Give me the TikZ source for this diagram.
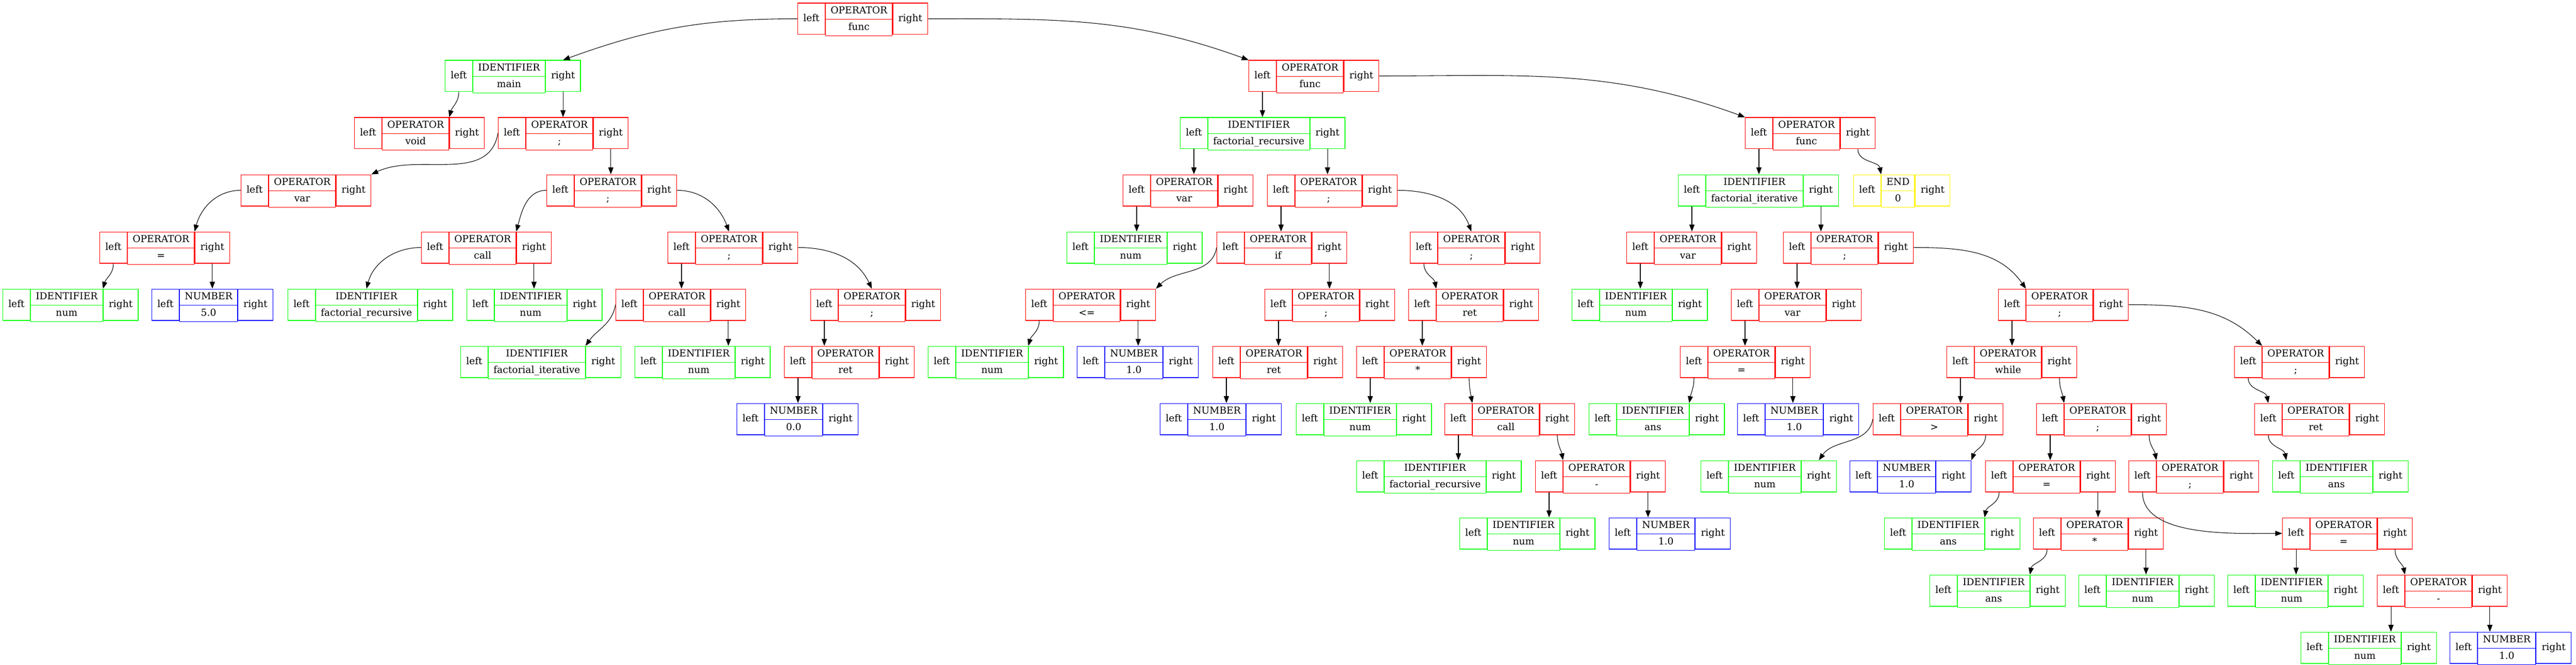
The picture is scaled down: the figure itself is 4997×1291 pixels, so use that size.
\documentclass[tikz,border=0pt]{standalone}
\usepackage{fontspec}
\setmainfont{DejaVu Serif}
\usepackage{tikz}
\usetikzlibrary{arrows.meta,shapes.multipart}
\tikzset{%
  tipG/.tip={Triangle[length=10pt,width=7.5pt]},
  cellbox/.style={draw=#1, line width=0.9pt, minimum height=45.6pt,
    inner xsep=8pt, inner ysep=0pt, text height=10.5pt, text depth=3.5pt},
  midbox/.style={draw=#1, line width=0.9pt, rectangle split, rectangle split parts=2,
    inner xsep=7.3pt, inner ysep=4.4pt},
  edge/.style={-tipG, line width=0.8pt}
}
\def\strutG{\rule[-3.5pt]{0pt}{14pt}}
% name, left edge (px), level, colour, kind, value
\def\astnode#1#2#3#4#5#6{%
  \node[cellbox=#4, anchor=west] (#1-l) at (#2,36.5+111*#3) {left};
  \node[midbox=#4, anchor=north west] (#1) at (#1-l.north east) {\strutG#5\nodepart{two}\strutG#6};
  \node[cellbox=#4, anchor=north west] (#1-r) at (#1.north east) {right};
}
\begin{document}
\begin{tikzpicture}[x=0.75pt,y=-0.75pt,font=\fontsize{14}{17}\selectfont]
\useasboundingbox (0,0) rectangle (4997,1291);
% level 0 - 2
\astnode{root}{1547}{0}{red}{OPERATOR}{func}
\astnode{main}{863}{1}{green}{IDENTIFIER}{main}
\astnode{funcA}{2422}{1}{red}{OPERATOR}{func}
\astnode{void}{687}{2}{red}{OPERATOR}{void}
\astnode{seqA}{966}{2}{red}{OPERATOR}{;}
\astnode{frec}{2289}{2}{green}{IDENTIFIER}{factorial\_recursive}
\astnode{funcB}{3385}{2}{red}{OPERATOR}{func}
% level 3
\astnode{varA}{467}{3}{red}{OPERATOR}{var}
\astnode{seqB}{1060}{3}{red}{OPERATOR}{;}
\astnode{varB}{2178}{3}{red}{OPERATOR}{var}
\astnode{seqC}{2458}{3}{red}{OPERATOR}{;}
\astnode{fit}{3255}{3}{green}{IDENTIFIER}{factorial\_iterative}
\astnode{fin}{3595}{3}{yellow}{END}{0}
% level 4
\astnode{asgA}{193}{4}{red}{OPERATOR}{=}
\astnode{callA}{817}{4}{red}{OPERATOR}{call}
\astnode{seqD}{1295}{4}{red}{OPERATOR}{;}
\astnode{numA}{2069}{4}{green}{IDENTIFIER}{num}
\astnode{ifA}{2360}{4}{red}{OPERATOR}{if}
\astnode{seqE}{2735}{4}{red}{OPERATOR}{;}
\astnode{varC}{3155}{4}{red}{OPERATOR}{var}
\astnode{seqF}{3459}{4}{red}{OPERATOR}{;}
% level 5
\astnode{numB}{5}{5}{green}{IDENTIFIER}{num}
\astnode{numC}{294}{5}{blue}{NUMBER}{5.0}
\astnode{frecA}{558}{5}{green}{IDENTIFIER}{factorial\_recursive}
\astnode{numD}{905}{5}{green}{IDENTIFIER}{num}
\astnode{callB}{1194}{5}{red}{OPERATOR}{call}
\astnode{seqG}{1572}{5}{red}{OPERATOR}{;}
\astnode{leA}{1989}{5}{red}{OPERATOR}{<=}
\astnode{seqH}{2453}{5}{red}{OPERATOR}{;}
\astnode{retA}{2732}{5}{red}{OPERATOR}{ret}
\astnode{numE}{3049}{5}{green}{IDENTIFIER}{num}
\astnode{varD}{3358}{5}{red}{OPERATOR}{var}
\astnode{seqI}{3876}{5}{red}{OPERATOR}{;}
% level 6
\astnode{fitA}{893}{6}{green}{IDENTIFIER}{factorial\_iterative}
\astnode{numF}{1231}{6}{green}{IDENTIFIER}{num}
\astnode{retB}{1521}{6}{red}{OPERATOR}{ret}
\astnode{numG}{1800}{6}{green}{IDENTIFIER}{num}
\astnode{numH}{2089}{6}{blue}{NUMBER}{1.0}
\astnode{retC}{2352}{6}{red}{OPERATOR}{ret}
\astnode{mulA}{2631}{6}{red}{OPERATOR}{*}
\astnode{asgB}{3259}{6}{red}{OPERATOR}{=}
\astnode{whileA}{3776}{6}{red}{OPERATOR}{while}
\astnode{seqJ}{4334}{6}{red}{OPERATOR}{;}
% level 7
\astnode{numI}{1429}{7}{blue}{NUMBER}{0.0}
\astnode{numJ}{2250}{7}{blue}{NUMBER}{1.0}
\astnode{numK}{2514}{7}{green}{IDENTIFIER}{num}
\astnode{callC}{2802}{7}{red}{OPERATOR}{call}
\astnode{ansA}{3082}{7}{green}{IDENTIFIER}{ans}
\astnode{numL}{3370}{7}{blue}{NUMBER}{1.0}
\astnode{gtA}{3633}{7}{red}{OPERATOR}{>}
\astnode{seqK}{3950}{7}{red}{OPERATOR}{;}
\astnode{retD}{4373}{7}{red}{OPERATOR}{ret}
% level 8
\astnode{frecB}{2631}{8}{green}{IDENTIFIER}{factorial\_recursive}
\astnode{subA}{2978}{8}{red}{OPERATOR}{-}
\astnode{numM}{3299}{8}{green}{IDENTIFIER}{num}
\astnode{numN}{3588}{8}{blue}{NUMBER}{1.0}
\astnode{asgC}{3851}{8}{red}{OPERATOR}{=}
\astnode{seqL}{4129}{8}{red}{OPERATOR}{;}
\astnode{ansB}{4408}{8}{green}{IDENTIFIER}{ans}
% level 9 - 11
\astnode{numO}{2831}{9}{green}{IDENTIFIER}{num}
\astnode{numP}{3121}{9}{blue}{NUMBER}{1.0}
\astnode{ansC}{3655}{9}{green}{IDENTIFIER}{ans}
\astnode{mulB}{3944}{9}{red}{OPERATOR}{*}
\astnode{asgD}{4427}{9}{red}{OPERATOR}{=}
\astnode{ansD}{3743}{10}{green}{IDENTIFIER}{ans}
\astnode{numQ}{4032}{10}{green}{IDENTIFIER}{num}
\astnode{numR}{4321}{10}{green}{IDENTIFIER}{num}
\astnode{subB}{4611}{10}{red}{OPERATOR}{-}
\astnode{numS}{4463}{11}{green}{IDENTIFIER}{num}
\astnode{numT}{4752}{11}{blue}{NUMBER}{1.0}
% edges, main
\draw[edge] (root-l.west) to[out=180,in=20] (main-r.north);
\draw[edge] (root-r.east) to[out=0,in=160] (funcA-l.north west);
\draw[edge] (main-l.south) to[out=-90,in=75] (void.north east);
\draw[edge] (main-r.south) -- (main-r.south |- seqA.north);
\draw[edge] (seqA-l.west) to[out=-100,in=25] (varA-r.north east);
\draw[edge] (seqA-r.south) -- (seqA-r.south |- seqB.north);
\draw[edge] (varA-l.west) to[out=180,in=75] (asgA.north east);
\draw[edge] (asgA-l.south) to[out=-90,in=75] (numB.north east);
\draw[edge] (asgA-r.south) -- (asgA-r.south |- numC.north);
\draw[edge] (seqB-l.west) to[out=180,in=75] (callA.north east);
\draw[edge] (seqB-r.east) to[out=0,in=110] (seqD.north);
\draw[edge] (callA-l.west) to[out=180,in=75] (frecA.north);
\draw[edge] (callA-r.south) -- (callA-r.south |- numD.north);
\draw[edge] (seqD-l.south) -- (seqD-l.south |- callB.north);
\draw[edge] (seqD-r.east) to[out=0,in=115] (seqG.north);
\draw[edge] (callB-l.west) to[out=-100,in=55] (fitA.north east);
\draw[edge] (callB-r.south) -- (callB-r.south |- numF.north);
\draw[edge] (seqG-l.south) -- (seqG-l.south |- retB.north);
\draw[edge] (retB-l.south) -- (retB-l.south |- numI.north);
% edges, factorial_recursive
\draw[edge] (funcA-l.south) -- (funcA-l.south |- frec.north);
\draw[edge] (funcA-r.east) to[out=0,in=160] (funcB-l.north west);
\draw[edge] (frec-l.south) -- (frec-l.south |- varB.north);
\draw[edge] (frec-r.south) -- (frec-r.south |- seqC.north);
\draw[edge] (varB-l.south) -- (varB-l.south |- numA.north);
\draw[edge] (seqC-l.south) -- (seqC-l.south |- ifA.north);
\draw[edge] (seqC-r.east) to[out=0,in=110] (seqE.north);
\draw[edge] (ifA-l.west) to[out=-100,in=45] (leA-r.north east);
\draw[edge] (ifA-r.south) -- (ifA-r.south |- seqH.north);
\draw[edge] (leA-l.south) to[out=-90,in=75] (numG.north east);
\draw[edge] (leA-r.south) -- (leA-r.south |- numH.north);
\draw[edge] (seqH-l.south) -- (seqH-l.south |- retC.north);
\draw[edge] (retC-l.south) -- (retC-l.south |- numJ.north);
\draw[edge] (seqE-l.south) to[out=-90,in=100] (retA.north west);
\draw[edge] (retA-l.south) -- (retA-l.south |- mulA.north);
\draw[edge] (mulA-l.south) -- (mulA-l.south |- numK.north);
\draw[edge] (mulA-r.south) to[out=-90,in=100] (callC.north west);
\draw[edge] (callC-l.south) -- (callC-l.south |- frecB.north);
\draw[edge] (callC-r.south) to[out=-90,in=100] (subA.north west);
\draw[edge] (subA-l.south) -- (subA-l.south |- numO.north);
\draw[edge] (subA-r.south) -- (subA-r.south |- numP.north);
% edges, factorial_iterative
\draw[edge] (funcB-l.south) -- (funcB-l.south |- fit.north);
\draw[edge] (funcB-r.south) to[out=-90,in=100] (fin.north west);
\draw[edge] (fit-l.south) -- (fit-l.south |- varC.north);
\draw[edge] (fit-r.south) -- (fit-r.south |- seqF.north);
\draw[edge] (varC-l.south) -- (varC-l.south |- numE.north);
\draw[edge] (seqF-l.south) -- (seqF-l.south |- varD.north);
\draw[edge] (seqF-r.east) to[out=0,in=125] (seqI.north west);
\draw[edge] (varD-l.south) -- (varD-l.south |- asgB.north);
\draw[edge] (asgB-l.south) to[out=-90,in=80] (ansA.north east);
\draw[edge] (asgB-r.south) -- (asgB-r.south |- numL.north);
\draw[edge] (seqI-l.south) -- (seqI-l.south |- whileA.north);
\draw[edge] (seqI-r.east) to[out=0,in=135] (seqJ.north west);
\draw[edge] (whileA-l.south) -- (whileA-l.south |- gtA.north);
\draw[edge] (whileA-r.south) to[out=-90,in=100] (seqK.north west);
\draw[edge] (seqJ-l.south) to[out=-90,in=100] (retD-l.north);
\draw[edge] (gtA-l.west) to[out=-100,in=55] (numM-r.north);
\draw[edge] (gtA-r.south) to[out=-90,in=70] (numN-r.north east);
\draw[edge] (seqK-l.south) -- (seqK-l.south |- asgC.north);
\draw[edge] (seqK-r.south) to[out=-90,in=100] (seqL.north west);
\draw[edge] (retD-l.south) to[out=-90,in=100] (ansB-l.north);
\draw[edge] (asgC-l.south) to[out=-90,in=80] (ansC.north east);
\draw[edge] (asgC-r.south) -- (asgC-r.south |- mulB.north);
\draw[edge] (seqL-l.south) to[out=-90,in=180,looseness=0.8] (asgD-l.west);
\draw[edge] (mulB-l.south) to[out=-90,in=80] (ansD.north east);
\draw[edge] (mulB-r.south) -- (mulB-r.south |- numQ.north);
\draw[edge] (asgD-l.south) -- (asgD-l.south |- numR.north);
\draw[edge] (asgD-r.south) to[out=-90,in=100] (subB.north west);
\draw[edge] (subB-l.south) -- (subB-l.south |- numS.north);
\draw[edge] (subB-r.south) -- (subB-r.south |- numT.north);
\end{tikzpicture}
\end{document}
